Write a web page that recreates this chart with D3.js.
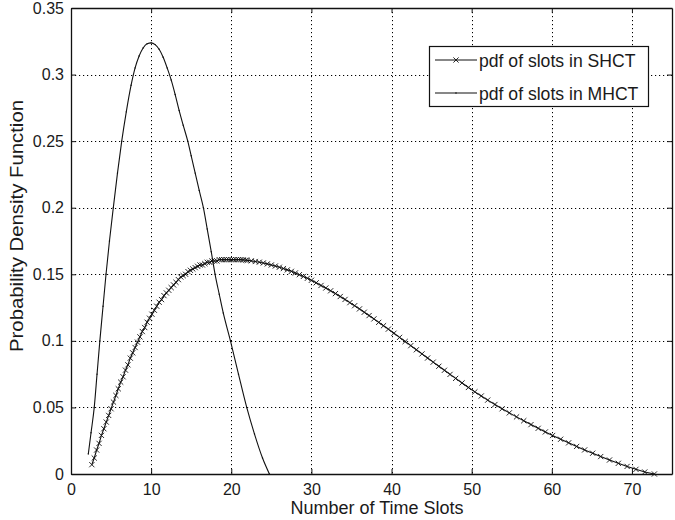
<!DOCTYPE html>
<html>
<head>
<meta charset="utf-8">
<script src="https://cdn.jsdelivr.net/npm/d3@7"></script>
<style>
  html, body { margin: 0; padding: 0; background: #fff; }
  svg { display: block; font-family: "Liberation Sans", Arial, sans-serif; }
</style>
</head>
<body>
<div id="chart"></div>
<script>
// ---- data ----
const xTicks = [0, 10, 20, 30, 40, 50, 60, 70];
const yTicks = [0, 0.05, 0.1, 0.15, 0.2, 0.25, 0.3, 0.35];
const yTickLabels = ["0", "0.05", "0.1", "0.15", "0.2", "0.25", "0.3", "0.35"];
const seriesNames = ["pdf of slots in SHCT", "pdf of slots in MHCT"];
const xLabel = "Number of Time Slots";
const yLabel = "Probability Density Function";

const shctX = [2.6,2.9,3.2,3.5,3.8,4.1,4.4,4.7,5.0,5.3,5.6,5.9,6.2,6.5,6.8,7.1,7.4,7.7,8.0,8.3,8.6,8.9,9.2,9.5,9.8,
  10.1,10.4,10.7,11.0,11.3,11.6,11.9,12.2,12.5,12.8,13.1,13.4,13.7,14.0,14.3,14.6,14.9,15.2,15.5,15.8,16.1,16.4,16.7,
  17.0,17.3,17.6,17.9,18.2,18.5,18.8,19.1,19.4,19.7,20.0,20.3,20.6,20.9,21.2,21.5,21.8,
  22.0,22.5,23.0,23.5,24.0,24.5,25.0,25.5,26.0,26.5,27.0,27.5,28.0,28.5,29.0,29.5,30.0,
  30.6,31.2,31.8,32.4,33.0,33.6,34.2,34.8,35.4,36.0,36.6,37.2,37.8,38.4,39.0,39.6,
  40.3,41.0,41.7,42.4,43.1,43.8,44.5,45.2,45.9,46.6,47.3,48.0,48.8,49.6,50.4,51.2,52.0,
  52.9,53.8,54.7,55.6,56.5,57.4,58.3,59.2,60.1,61.1,62.1,63.1,64.1,65.1,66.1,67.2,68.3,69.4,70.5,71.6,72.8];
const shctY = [0.007,0.012,0.018,0.023,0.029,0.034,0.039,0.044,0.049,0.054,0.059,0.064,0.069,0.073,0.078,0.082,0.087,0.091,0.095,0.099,0.103,0.107,0.110,0.114,0.117,
  0.120,0.123,0.126,0.129,0.131,0.134,0.136,0.138,0.140,0.142,0.144,0.146,0.148,0.149,0.150,0.152,0.153,0.154,0.155,0.156,0.157,0.157,0.158,
  0.159,0.159,0.160,0.160,0.160,0.161,0.161,0.161,0.161,0.161,0.161,0.161,0.161,0.161,0.161,0.1608,0.1606,
  0.1605,0.1601,0.1596,0.1591,0.1585,0.1578,0.1570,0.1562,0.1553,0.1543,0.1533,0.1522,0.1510,0.1497,0.1484,0.1470,0.1455,
  0.1436,0.1416,0.1397,0.1376,0.1355,0.1333,0.1311,0.1287,0.1264,0.1240,0.1215,0.1190,0.1165,0.1139,0.1114,0.1088,
  0.1057,0.1026,0.0995,0.0964,0.0933,0.0902,0.0871,0.0840,0.0809,0.0779,0.0748,0.0718,0.0684,0.0650,0.0617,0.0586,0.0555,
  0.0522,0.0490,0.0459,0.0429,0.0400,0.0371,0.0343,0.0316,0.0289,0.0261,0.0234,0.0207,0.0181,0.0156,0.0131,0.0105,0.0080,0.0057,0.0035,0.0015,0.0];

const mhctX = [2.16,2.5,2.9,3.25,3.6,4.0,4.37,4.8,5.28,5.8,6.33,6.9,7.5,8.0,8.5,9.0,9.5,10.0,10.5,11.0,11.5,12.0,12.5,13.0,13.5,14.0,14.57,15.0,15.5,16.0,16.52,17.0,17.5,17.98,18.5,19.0,19.9,20.9,21.93,22.9,23.9,24.76];
const mhctY = [0.015,0.031,0.050,0.075,0.100,0.126,0.150,0.175,0.200,0.226,0.250,0.272,0.292,0.305,0.314,0.320,0.3232,0.3238,0.3225,0.319,0.313,0.305,0.296,0.285,0.273,0.262,0.250,0.239,0.226,0.213,0.200,0.184,0.167,0.150,0.135,0.121,0.100,0.075,0.050,0.030,0.012,0.0];

// ---- layout ----
const W = 675, H = 520;
const plot = { left: 71, top: 8, right: 672, bottom: 474 };
const ink = "#111";

const svg = d3.select("#chart").append("svg").attr("width", W).attr("height", H);

const x = d3.scaleLinear().domain([0, 75]).range([plot.left, plot.right]);
const y = d3.scaleLinear().domain([0, 0.35]).range([plot.bottom, plot.top]);

// grid
const grid = svg.append("g").attr("stroke", "#000").attr("stroke-width", 1).attr("stroke-dasharray", "1.2,2.8");
grid.selectAll(".gx").data(xTicks.filter(d => d > 0)).join("line")
  .attr("x1", d => Math.round(x(d)) + 0.5).attr("x2", d => Math.round(x(d)) + 0.5)
  .attr("y1", plot.top).attr("y2", plot.bottom);
grid.selectAll(".gy").data(yTicks.filter(d => d > 0 && d < 0.35)).join("line")
  .attr("y1", d => Math.round(y(d)) + 0.5).attr("y2", d => Math.round(y(d)) + 0.5)
  .attr("x1", plot.left).attr("x2", plot.right);

// axes (inward ticks, MATLAB style)
const tickLen = 5;
const fmtY = (d, i) => yTickLabels[i];
const axB = svg.append("g").attr("transform", `translate(0,${plot.bottom})`)
  .call(d3.axisBottom(x).tickValues(xTicks).tickSizeInner(-tickLen).tickSizeOuter(0).tickPadding(10));
const axT = svg.append("g").attr("transform", `translate(0,${plot.top})`)
  .call(d3.axisTop(x).tickValues(xTicks).tickSizeInner(-tickLen).tickSizeOuter(0).tickFormat(""));
const axL = svg.append("g").attr("transform", `translate(${plot.left},0)`)
  .call(d3.axisLeft(y).tickValues(yTicks).tickSizeInner(-tickLen).tickSizeOuter(0).tickPadding(7).tickFormat(fmtY));
const axR = svg.append("g").attr("transform", `translate(${plot.right},0)`)
  .call(d3.axisRight(y).tickValues(yTicks).tickSizeInner(-tickLen).tickSizeOuter(0).tickFormat(""));
[axB, axT, axL, axR].forEach(a => {
  a.selectAll(".domain").attr("stroke", ink).attr("stroke-width", 1.3);
  a.selectAll(".tick line").attr("stroke", ink).attr("stroke-width", 1);
  a.selectAll("text").attr("fill", "#1a1a1a").style("font-size", "16px")
    .style("font-family", '"Liberation Sans", Arial, sans-serif');
});
axB.selectAll("text").attr("dy", "0.71em");

// SHCT line + x markers
const shct = shctX.map((d, i) => [d, shctY[i]]);
const mhct = mhctX.map((d, i) => [d, mhctY[i]]);
const lineGen = d3.line().x(d => x(d[0])).y(d => y(d[1]));
const lineGenSmooth = d3.line().x(d => x(d[0])).y(d => y(d[1])).curve(d3.curveMonotoneX);

svg.append("path").datum(mhct).attr("d", lineGenSmooth)
  .attr("fill", "none").attr("stroke", ink).attr("stroke-width", 1.1);
svg.append("g").selectAll("circle").data(mhct).join("circle")
  .attr("cx", d => x(d[0])).attr("cy", d => y(d[1])).attr("r", 0.7).attr("fill", ink);

svg.append("path").datum(shct).attr("d", lineGen)
  .attr("fill", "none").attr("stroke", ink).attr("stroke-width", 1.1);
const ms = 2.6;
const xMark = (cx, cy) => `M${cx - ms},${cy - ms}L${cx + ms},${cy + ms}M${cx - ms},${cy + ms}L${cx + ms},${cy - ms}`;
svg.append("g").selectAll("path").data(shct).join("path")
  .attr("d", d => xMark(x(d[0]), y(d[1])))
  .attr("stroke", ink).attr("stroke-width", 0.9).attr("fill", "none");

// axis labels
svg.append("text").attr("x", 377).attr("y", 514).attr("text-anchor", "middle")
  .style("font-size", "18px").attr("fill", "#1a1a1a").text(xLabel);
svg.append("text").attr("transform", "translate(23,226) rotate(-90)").attr("text-anchor", "middle")
  .style("font-size", "18px").attr("fill", "#1a1a1a")
  .attr("textLength", 252).attr("lengthAdjust", "spacingAndGlyphs").text(yLabel);

// legend
const lg = svg.append("g");
lg.append("rect").attr("x", 429.5).attr("y", 46.5).attr("width", 219).attr("height", 60)
  .attr("fill", "#fff").attr("stroke", ink).attr("stroke-width", 1.2);
const rowsY = [60, 93];
seriesNames.forEach((name, i) => {
  const ry = rowsY[i];
  lg.append("line").attr("x1", 435).attr("x2", 477).attr("y1", ry).attr("y2", ry)
    .attr("stroke", ink).attr("stroke-width", 1.1);
  if (i === 0) {
    lg.append("path").attr("d", xMark(456, ry)).attr("stroke", ink).attr("stroke-width", 0.9);
  } else {
    lg.append("circle").attr("cx", 456).attr("cy", ry).attr("r", 0.8).attr("fill", ink);
  }
  lg.append("text").attr("x", 479).attr("y", ry + 6.5).style("font-size", "17.6px")
    .attr("fill", "#1a1a1a").text(name);
});
</script>
</body>
</html>
